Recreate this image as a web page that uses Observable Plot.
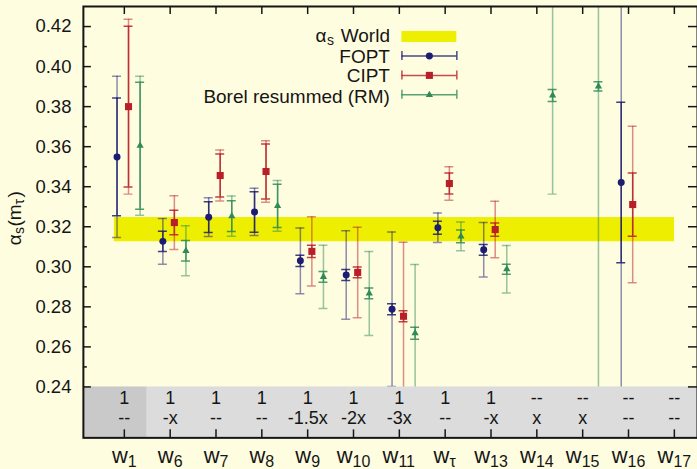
<!DOCTYPE html>
<html><head><meta charset="utf-8">
<script src="https://cdn.jsdelivr.net/npm/d3@7"></script>
<script src="https://cdn.jsdelivr.net/npm/@observablehq/plot@0.6"></script>
<style>
html,body{margin:0;padding:0;background:#fffde0;overflow:hidden}
#chart{width:697px;height:469px;overflow:hidden}
</style></head><body><div id="chart"></div>
<script>
// ---------- data ----------
const categories = ["w1","w6","w7","w8","w9","w10","w11","wτ","w13","w14","w15","w16","w17"];
const labelSubs  = ["1","6","7","8","9","10","11","τ","13","14","15","16","17"];
const rowTop     = ["1","1","1","1","1","1","1","1","1","--","--","--","--"];
const rowBottom  = ["--","-x","--","--","-1.5x","-2x","-3x","--","-x","x","x","--","--"];

const foptVal   = [0.3549,0.3127,0.3248,0.3274,0.3030,0.2959,0.2788,0.3195,0.3085,null,null,0.3421,null];
const foptInner = [0.0294,0.0051,0.0077,0.0101,0.0028,0.0027,0.0027,0.0032,0.0027,null,null,0.0401,null];
const foptOuter = [0.0403,0.0114,0.0097,0.0118,0.0164,0.0221,0.0386,0.0074,0.0136,null,null,0.1600,null];

const ciptVal   = [0.3800,0.3221,0.3456,0.3476,0.3077,0.2972,0.2753,0.3416,0.3186,null,null,0.3311,null];
const ciptInner = [0.0402,0.0061,0.0107,0.0137,0.0031,0.0027,0.0028,0.0052,0.0033,null,null,0.0158,null];
const ciptOuter = [0.0437,0.0134,0.0127,0.0154,0.0173,0.0226,0.0370,0.0084,0.0141,null,null,0.0391,null];

const rmVal     = [0.3605,0.3080,0.3253,0.3304,0.2950,0.2867,0.2668,0.3152,0.2988,0.3856,0.3901,null,null];
const rmInner   = [0.0317,0.0051,0.0077,0.0108,0.0027,0.0027,0.0030,0.0032,0.0025,0.0030,0.0023,null,null];
const rmOuter   = [0.0347,0.0125,0.0101,0.0127,0.0158,0.0210,0.0344,0.0072,0.0119,0.0493,0.2500,null,null];

const worldBand = [0.3125, 0.3246];
const yMajor = [0.24,0.26,0.28,0.30,0.32,0.34,0.36,0.38,0.40,0.42];
const yMinor = [0.25,0.27,0.29,0.31,0.33,0.35,0.37,0.39,0.41];
const grayTop = 0.24;

// ---------- layout ----------
const W = 698, H = 469, ML = 83, MR = 0, MT = 6, MB = 31;
const xDomain = [-0.8932, 12.505];
const yDomain = [0.21456, 0.43002];
const pxX = (W - ML - MR) / (xDomain[1] - xDomain[0]);
const pxY = (H - MT - MB) / (yDomain[1] - yDomain[0]);
const X = px => xDomain[0] + (px - ML) / pxX;
const Y = py => yDomain[0] + (H - MB - py) / pxY;
const ux = px => px / pxX;
const uy = py => py / pxY;

const FONT = "'Liberation Sans', Arial, Helvetica, sans-serif";
const INK = "#151515";

const series = [
  {name:"FOPT", val:foptVal, inner:foptInner, outer:foptOuter, color:"#1c1c72", symbol:"circle",   r:3.5, off:-7.3, ly:55.7},
  {name:"CIPT", val:ciptVal, inner:ciptInner, outer:ciptOuter, color:"#b81f28", symbol:"square",   r:4.0, off:4.2,  ly:75.0},
  {name:"Borel resummed (RM)", val:rmVal, inner:rmInner, outer:rmOuter, color:"#2e8b57", symbol:"triangle", r:2.7, off:15.8, ly:94.5}
];

const marks = [];

// world band
marks.push(Plot.rect([worldBand], {x1: [X(114)], x2: [X(675)], y1: d => d[0], y2: d => d[1], fill: "#eeee00"}));

const capHalf = 4.5, sw = 1.5;
for (const s of series) {
  const pts = s.val.map((v, i) => v == null ? null : {
    x: i + ux(s.off), y: v,
    ilo: v - s.inner[i], ihi: v + s.inner[i],
    olo: v - s.outer[i], ohi: v + s.outer[i]
  }).filter(Boolean);
  const oc = pts.flatMap(p => [{x: p.x, y: p.olo}, {x: p.x, y: p.ohi}]);
  const ic = pts.flatMap(p => [{x: p.x, y: p.ilo}, {x: p.x, y: p.ihi}]);
  marks.push(
    Plot.ruleX(pts, {x: "x", y1: "olo", y2: "ohi", stroke: s.color, strokeOpacity: 0.5, strokeWidth: sw, clip: true}),
    Plot.ruleY(oc, {y: "y", x1: d => d.x - ux(capHalf), x2: d => d.x + ux(capHalf), stroke: s.color, strokeOpacity: 0.5, strokeWidth: sw, clip: true}),
    Plot.ruleX(pts, {x: "x", y1: "ilo", y2: "ihi", stroke: s.color, strokeOpacity: 0.85, strokeWidth: sw, clip: true}),
    Plot.ruleY(ic, {y: "y", x1: d => d.x - ux(capHalf), x2: d => d.x + ux(capHalf), stroke: s.color, strokeOpacity: 0.85, strokeWidth: sw, clip: true}),
    Plot.dot(pts, {x: "x", y: "y", symbol: s.symbol, r: s.r, fill: s.color, stroke: "none"})
  );
}

// gray band
marks.push(
  Plot.rect([0], {x1: [xDomain[0]], x2: [0.5], y1: [yDomain[0]], y2: [grayTop], fill: "#c9c9c9"}),
  Plot.rect([0], {x1: [0.5], x2: [xDomain[1]], y1: [yDomain[0]], y2: [grayTop], fill: "#dcdcdc"}),
  Plot.text(rowTop, {x: (d, i) => i, y: () => Y(398.2), text: d => d, fontSize: 18, fill: INK}),
  Plot.text(rowBottom, {x: (d, i) => i, y: () => Y(418.2), text: d => d, fontSize: 18, fill: INK})
);

// ticks
const tk = {stroke: INK, strokeWidth: 1.5};
marks.push(
  Plot.ruleY(yMajor, {y: d => d, x1: () => xDomain[0], x2: () => xDomain[0] + ux(8), ...tk}),
  Plot.ruleY(yMinor, {y: d => d, x1: () => xDomain[0], x2: () => xDomain[0] + ux(4), ...tk}),
  Plot.ruleY(yMajor, {y: d => d, x1: () => xDomain[1] - ux(9), x2: () => xDomain[1], ...tk}),
  Plot.ruleY(yMinor, {y: d => d, x1: () => xDomain[1] - ux(5), x2: () => xDomain[1], ...tk}),
  Plot.ruleX(categories, {x: (d, i) => i, y1: () => yDomain[1], y2: () => yDomain[1] - uy(8), ...tk}),
  Plot.ruleX(categories, {x: (d, i) => i, y1: () => yDomain[0], y2: () => yDomain[0] + uy(8), ...tk}),
  Plot.frame({stroke: INK, strokeWidth: 2})
);

// y tick labels
marks.push(Plot.text(yMajor, {x: () => xDomain[0], y: d => d, dx: -12, text: d => d3.format(".2f")(d), textAnchor: "end", fontSize: 18.5, fill: INK}));

// x labels: w + subscript
const wSize = 22, subSize = 16;
const subW = s => s === "τ" ? 0.46 * subSize : s.length * 0.556 * subSize;
const wW = 0.722 * wSize;
categories.forEach((c, i) => {
  const sub = labelSubs[i];
  const T = wW + subW(sub);
  marks.push(
    Plot.text([c], {x: [i], y: [Y(456.5)], dx: -T / 2, text: () => "w", textAnchor: "start", fontSize: wSize, fill: INK}),
    Plot.text([c], {x: [i], y: [Y(462.5)], dx: -T / 2 + wW, text: () => sub, textAnchor: "start", fontSize: subSize, fill: INK})
  );
});

// y axis title: αs(mτ), rotated
const yl = [
  {t: "α",  lx: 0,    sub: false},
  {t: "s",  lx: 11.2, sub: true},
  {t: "(m", lx: 18.6, sub: false},
  {t: "τ",  lx: 40.8, sub: true},
  {t: ")",  lx: 47.6, sub: false}
];
for (const p of yl) {
  marks.push(Plot.text([p.t], {x: [X(p.sub ? 19 : 14)], y: [Y(245 - p.lx)], text: d => d, rotate: -90, textAnchor: "start",
    fontSize: p.sub ? 14 : 19, fill: INK}));
}

// legend
const legX = 390;
marks.push(
  Plot.text(["α"], {x: [X(326.5)], y: [Y(35)], text: d => d, textAnchor: "end", fontSize: 19, fill: INK}),
  Plot.text(["s"], {x: [X(334)], y: [Y(40)], text: d => d, textAnchor: "end", fontSize: 14, fill: INK}),
  Plot.text(["World"], {x: [X(legX)], y: [Y(35)], text: d => d, textAnchor: "end", fontSize: 19, fill: INK}),
  Plot.rect([0], {x1: [X(402)], x2: [X(457)], y1: [Y(31)], y2: [Y(42)], fill: "#eeee00"})
);
const legTextY = [56.2, 75.9, 96.2];
series.forEach((s, k) => {
  const ly = s.ly;
  marks.push(
    Plot.text([s.name], {x: [X(legX)], y: [Y(legTextY[k])], text: d => d, textAnchor: "end", fontSize: 19, fill: INK}),
    Plot.ruleY([0], {y: [Y(ly)], x1: [X(402)], x2: [X(457)], stroke: s.color, strokeOpacity: 0.8, strokeWidth: sw}),
    Plot.ruleX([X(402), X(457)], {x: d => d, y1: () => Y(ly - 4.5), y2: () => Y(ly + 4.5), stroke: s.color, strokeOpacity: 0.8, strokeWidth: sw}),
    Plot.dot([0], {x: [X(429.5)], y: [Y(ly)], symbol: s.symbol, r: s.r, fill: s.color, stroke: "none"})
  );
});

const chart = Plot.plot({
  width: W, height: H,
  marginLeft: ML, marginRight: MR, marginTop: MT, marginBottom: MB,
  x: {type: "linear", domain: xDomain, axis: null},
  y: {type: "linear", domain: yDomain, axis: null},
  style: {fontFamily: FONT, background: "#fffde0", overflow: "visible"},
  marks
});
document.getElementById("chart").appendChild(chart);
</script>
</body></html>
